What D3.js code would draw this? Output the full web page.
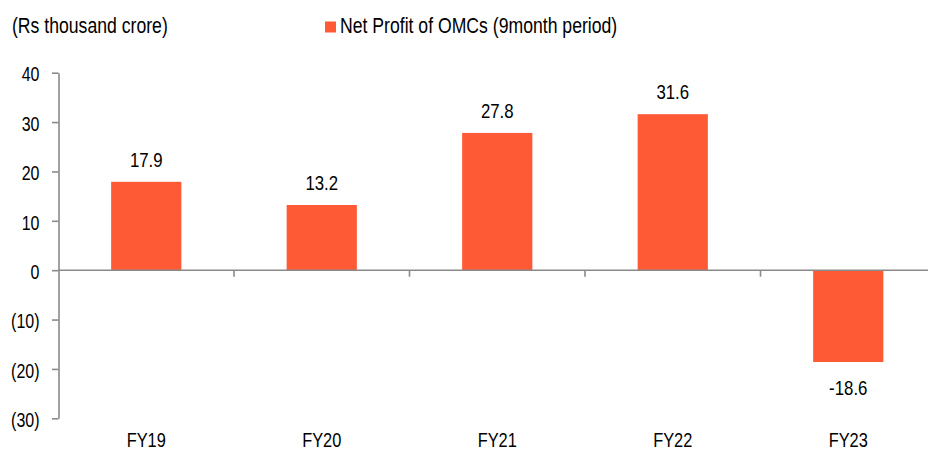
<!DOCTYPE html>
<html>
<head>
<meta charset="utf-8">
<script src="https://cdn.jsdelivr.net/npm/d3@7"></script>
<style>
  html, body { margin: 0; padding: 0; background: #fff; }
  svg { display: block; }
  text { fill: #000; }
</style>
</head>
<body>
<svg id="chart" width="928" height="452"></svg>
<script>
const categories = ["FY19", "FY20", "FY21", "FY22", "FY23"];
const netProfit = [17.9, 13.2, 27.8, 31.6, -18.6];
const yTicks = [-30, -20, -10, 0, 10, 20, 30, 40];
const unitLabel = "(Rs thousand crore)";
const seriesName = "Net Profit of OMCs (9month period)";

(function () {
const plotLeft = 58.5, plotRight = 936, plotTop = 72.7, plotBottom = 418.3;
const barColor = "#FF5A36";
const axisColor = "#8a8a8a";

// detect a narrow sans face; otherwise condense the regular face
function hasFont(name) {
  const c = document.createElement("canvas").getContext("2d");
  const s = "abcdefghijklmnopqrstuvwxyz0123456789";
  c.font = "40px monospace"; const a = c.measureText(s).width;
  c.font = `40px '${name}', monospace`; const b = c.measureText(s).width;
  return Math.abs(a - b) > 0.5;
}
const narrow = hasFont("Liberation Sans Narrow") ? "'Liberation Sans Narrow'" :
               hasFont("Arial Narrow") ? "'Arial Narrow'" : null;
const family = narrow ? narrow + ", sans-serif" : "'Liberation Sans', Arial, sans-serif";
function styleText(sel, size) {
  sel.style("font-family", family).style("font-size", size + "px").attr("fill", "#000");
  if (!narrow) {
    sel.each(function () {
      const ax = +(this.getAttribute("x") || 0);
      this.setAttribute("transform", `translate(${ax},0) scale(0.82,1) translate(${-ax},0)`);
    });
  }
}

const svg = d3.select("#chart");

const x = d3.scaleBand().domain(categories).range([plotLeft, plotRight]).padding(0);
const xBar = d3.scaleBand().domain(categories).range([plotLeft, plotRight])
  .paddingInner(0.6).paddingOuter(0.3);
const y = d3.scaleLinear().domain([-30, 40]).range([plotBottom, plotTop]);

// bars
svg.append("g").selectAll("rect").data(netProfit).join("rect")
  .attr("x", (d, i) => xBar(categories[i]))
  .attr("width", xBar.bandwidth())
  .attr("y", d => y(Math.max(0, d)))
  .attr("height", d => Math.abs(y(d) - y(0)))
  .attr("fill", barColor);

// y axis
const yAxis = svg.append("g").attr("transform", `translate(${plotLeft},0)`)
  .call(d3.axisLeft(y).tickValues(yTicks).tickSizeInner(6.5).tickSizeOuter(0).tickPadding(12.5)
    .tickFormat(d => d < 0 ? `(${-d})` : `${d}`));
yAxis.select(".domain").attr("stroke", axisColor).attr("stroke-width", 1.6);
yAxis.selectAll(".tick line").attr("stroke", axisColor).attr("stroke-width", 1.6);
yAxis.selectAll(".tick text").attr("dy", "0.42em");
styleText(yAxis.selectAll(".tick text"), 19.5);

// zero line
svg.append("line")
  .attr("x1", plotLeft).attr("x2", plotRight)
  .attr("y1", y(0)).attr("y2", y(0))
  .attr("stroke", axisColor).attr("stroke-width", 1.6);

// category boundary ticks
svg.append("g").selectAll("line").data(categories.slice(1)).join("line")
  .attr("x1", d => x(d)).attr("x2", d => x(d))
  .attr("y1", y(0)).attr("y2", y(0) + 6.5)
  .attr("stroke", axisColor).attr("stroke-width", 1.6);

// category labels
const xAxis = svg.append("g").attr("transform", `translate(0,${plotBottom})`)
  .call(d3.axisBottom(x).tickSize(0).tickPadding(15));
xAxis.select(".domain").remove();
styleText(xAxis.selectAll(".tick text"), 20);

// value labels
const vals = svg.append("g").selectAll("text").data(netProfit).join("text")
  .attr("x", (d, i) => x(categories[i]) + x.bandwidth() / 2)
  .attr("y", d => d >= 0 ? y(d) - 15 : y(d) + 33)
  .attr("text-anchor", "middle")
  .text(d => d.toFixed(1));
styleText(vals, 20.5);

// unit label
styleText(svg.append("text").attr("x", 12).attr("y", 33.5).text(unitLabel), 21.5);

// legend
svg.append("rect").attr("x", 325).attr("y", 21.5).attr("width", 11).attr("height", 11)
  .attr("fill", barColor);
styleText(svg.append("text").attr("x", 340).attr("y", 33.5).text(seriesName), 21.5);
})();
</script>
</body>
</html>
